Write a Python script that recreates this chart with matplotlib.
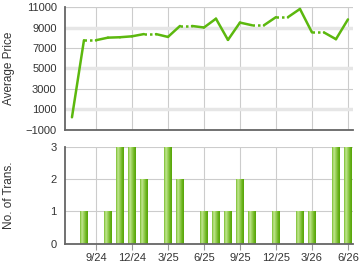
import matplotlib.pyplot as plt
import matplotlib.colors as mcolors

plt.rcParams['font.family'] = ['Liberation Sans', 'DejaVu Sans']

# month index: 0 = Sep 2024
price_months = [-2, -1, 1, 2, 3, 4, 6, 7, 9, 10, 11, 12, 13, 15, 17, 18, 20, 21]
prices = [240, 7760, 8010, 8050, 8140, 8360, 8080, 9150, 9000, 9860, 7790, 9480, 9220,
          10010, 10810, 8520, 7860, 9790]

trans_months = [-1, 1, 2, 3, 4, 6, 7, 9, 10, 11, 12, 13, 15, 17, 18, 20, 21]
trans_counts = [1, 1, 3, 3, 2, 3, 2, 1, 1, 1, 2, 1, 1, 1, 1, 3, 3]

tick_months = [0, 3, 6, 9, 12, 15, 18, 21]
tick_labels = ['9/24', '12/24', '3/25', '6/25', '9/25', '12/25', '3/26', '6/26']
price_ticks = [-1000, 1000, 3000, 5000, 7000, 9000, 11000]
count_ticks = [0, 1, 2, 3]

line_color = '#5cb80e'
grid_color = '#cccccc'
spine_color = '#666666'
text_color = '#333333'
xlim = (-2.58, 21.42)

fig = plt.figure(figsize=(3.6, 2.7), dpi=100)
ax1 = fig.add_axes([65/360, 1-130/270, 288/360, 123/270])
ax2 = fig.add_axes([65/360, 1-243.5/270, 288/360, 96.2/270])

for ax in (ax1, ax2):
    ax.set_xlim(*xlim)
    for s in ('top', 'right'):
        ax.spines[s].set_visible(False)
    for s in ('left', 'bottom'):
        ax.spines[s].set_color(spine_color)
        ax.spines[s].set_linewidth(1.3)
        ax.spines[s].set_zorder(5)
    for m in tick_months:
        ax.axvline(m, color=grid_color, lw=0.8, zorder=0)
    ax.tick_params(axis='y', length=0, pad=6, labelsize=8, labelcolor=text_color)
    ax.set_xticks(tick_months)

# --- price chart ---
ax1.set_ylim(-1000, 11000)
ax1.set_yticks(price_ticks)
for i, v in enumerate(price_ticks):
    if i % 2 == 1:
        ax1.axhline(v, color='#e6e6e6', lw=2.5, zorder=0)
    else:
        ax1.axhline(v, color=grid_color, lw=0.8, zorder=0)
ax1.axhline(11000, color=grid_color, lw=0.8, zorder=0)
ax1.tick_params(axis='x', length=0, labelbottom=False)

for i in range(len(price_months) - 1):
    m0, m1 = price_months[i], price_months[i + 1]
    v0, v1 = prices[i], prices[i + 1]
    if m1 - m0 == 1:
        ax1.plot([m0, m1], [v0, v1], color=line_color, lw=1.8, solid_capstyle='round', zorder=3)
    else:
        ax1.plot([m0, m0 + 1], [v0, v0], color=line_color, lw=1.8, linestyle=(0, (1, 1.2)), zorder=3)
        ax1.plot([m0 + 1, m1], [v0, v1], color=line_color, lw=1.8, solid_capstyle='round', zorder=3)

ax1.set_ylabel('Average Price', fontsize=8.5, color=text_color)
ax1.yaxis.set_label_coords(-0.175, 0.5)

# --- transactions chart ---
ax2.set_ylim(0, 3)
ax2.set_yticks(count_ticks)
for v in count_ticks[1:]:
    ax2.axhline(v, color=grid_color, lw=0.8, zorder=0)
ax2.set_xticks(tick_months)
ax2.set_xticklabels(tick_labels)
ax2.tick_params(axis='x', length=4, width=0.8, color='#999999', pad=3, labelsize=8,
                labelcolor=text_color)

strip_colors = ['#8ac846', '#aedb74', '#b6e082', '#a2d464', '#8ec84a', '#78bc2e', '#66b018', '#5aa80c']
bar_w = 0.66
sw = bar_w / len(strip_colors)
for k, c in enumerate(strip_colors):
    offs = -bar_w / 2 + sw * (k + 0.5)
    ax2.bar([m + offs for m in trans_months], trans_counts, width=sw * 1.02,
            color=c, linewidth=0, zorder=2)

ax2.set_ylabel('No. of Trans.', fontsize=8.5, color=text_color)
ax2.yaxis.set_label_coords(-0.175, 0.5)

fig.savefig('out.png', dpi=100)
